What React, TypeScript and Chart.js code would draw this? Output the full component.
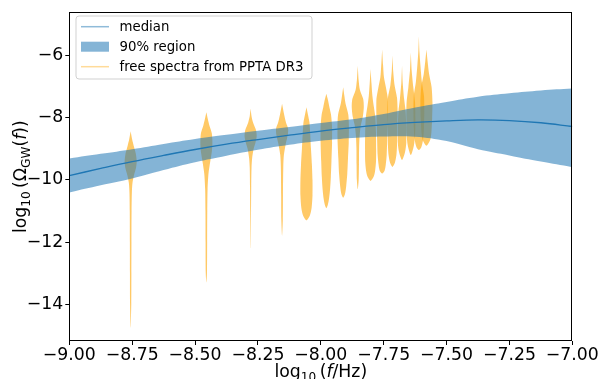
import React, { useEffect, useRef } from "react";
import { Chart, registerables } from "chart.js";
Chart.register(...registerables);

// ---- axis ticks ----
const xTicks = [-9, -8.75, -8.5, -8.25, -8, -7.75, -7.5, -7.25, -7];
const yTicks = [-14, -12, -10, -8, -6];
const xRange = [-9, -7];
const yRange = [-15.18, -4.61];

// ---- model curve (log10 f grid) ----
const bandX = [-9, -8.875, -8.75, -8.625, -8.5, -8.375, -8.25, -8.125, -8, -7.875, -7.75, -7.625, -7.5, -7.375, -7.25, -7.125, -7];
const median = [-9.86, -9.63, -9.41, -9.21, -9.02, -8.85, -8.7, -8.56, -8.43, -8.32, -8.22, -8.15, -8.1, -8.07, -8.09, -8.16, -8.28];
const upper90 = [-9.31, -9.16, -9.01, -8.84, -8.68, -8.55, -8.42, -8.3, -8.17, -8.05, -7.88, -7.67, -7.49, -7.32, -7.21, -7.12, -7.06];
const lower90 = [-10.4, -10.17, -9.95, -9.68, -9.43, -9.22, -9.03, -8.87, -8.74, -8.65, -8.6, -8.61, -8.75, -9.01, -9.21, -9.41, -9.59];

// ---- PPTA DR3 free spectra (violins) ----
const violinFreqs = [-8.756, -8.455, -8.279, -8.154, -8.057, -7.978, -7.911, -7.853, -7.802, -7.756, -7.715, -7.677, -7.642, -7.61, -7.58];
const violinLevels = [
  [-8.43, -8.7, -8.9, -9.15, -9.4, -9.6, -9.85, -10.1, -10.4, -11.0, -12.0, -13.0, -14.0, -14.75],
  [-7.82, -8.05, -8.25, -8.5, -8.8, -9.1, -9.4, -9.8, -10.3, -11.0, -12.0, -13.0, -13.3],
  [-7.7, -7.95, -8.15, -8.4, -8.6, -8.8, -9.0, -9.3, -9.6, -10.2, -11.0, -12.2],
  [-7.55, -7.9, -8.15, -8.35, -8.55, -8.85, -9.2, -9.6, -10.5, -11.3, -11.8],
  [-7.66, -7.9, -8.15, -8.5, -9.0, -9.5, -10.0, -10.5, -10.9, -11.15, -11.3],
  [-7.23, -7.45, -7.65, -7.9, -8.3, -8.8, -9.4, -9.9, -10.3, -10.6, -10.8, -10.91],
  [-7.02, -7.3, -7.55, -7.9, -8.3, -8.8, -9.3, -9.8, -10.2, -10.45, -10.57],
  [-6.33, -6.8, -7.1, -7.4, -7.65, -7.95, -8.25, -8.6, -9.0, -9.5, -10.0, -10.3],
  [-6.43, -6.9, -7.3, -7.6, -8.0, -8.5, -9.0, -9.4, -9.7, -9.9, -10.03],
  [-5.8, -6.3, -6.7, -7.05, -7.4, -8.0, -8.6, -9.2, -9.5, -9.7, -9.79],
  [-6.0, -6.5, -6.95, -7.35, -7.8, -8.4, -8.9, -9.2, -9.45, -9.58],
  [-6.33, -6.9, -7.4, -7.8, -8.3, -8.8, -9.1, -9.36],
  [-5.9, -6.5, -7.0, -7.5, -8.0, -8.5, -8.9, -9.2],
  [-5.37, -5.9, -6.3, -6.85, -7.3, -7.8, -8.3, -8.7, -8.95, -9.04],
  [-5.8, -6.2, -6.6, -7.0, -7.5, -8.0, -8.4, -8.7, -8.9],
];
const violinDensity = [
  [0, 0.25, 0.5, 0.85, 1.0, 0.9, 0.55, 0.3, 0.2, 0.15, 0.13, 0.12, 0.1, 0],
  [0, 0.25, 0.5, 0.9, 1.0, 0.9, 0.65, 0.35, 0.2, 0.15, 0.13, 0.1, 0],
  [0, 0.15, 0.4, 0.9, 1.0, 0.8, 0.5, 0.25, 0.15, 0.1, 0.07, 0],
  [0, 0.35, 0.65, 1.0, 0.95, 0.6, 0.3, 0.2, 0.15, 0.12, 0],
  [0, 0.25, 0.5, 0.62, 0.75, 0.9, 1.0, 1.0, 0.85, 0.55, 0],
  [0, 0.3, 0.5, 0.78, 0.95, 0.95, 0.85, 0.75, 0.62, 0.45, 0.25, 0],
  [0, 0.2, 0.4, 0.85, 0.95, 0.92, 0.8, 0.68, 0.5, 0.3, 0],
  [0, 0.15, 0.35, 0.9, 1.0, 0.85, 0.5, 0.3, 0.22, 0.2, 0.15, 0],
  [0, 0.15, 0.3, 0.5, 0.8, 0.9, 0.92, 0.9, 0.75, 0.5, 0],
  [0, 0.15, 0.3, 0.65, 0.95, 0.95, 0.85, 0.75, 0.6, 0.4, 0],
  [0, 0.12, 0.35, 0.75, 0.85, 0.8, 0.75, 0.65, 0.4, 0],
  [0, 0.12, 0.35, 0.6, 0.7, 0.7, 0.5, 0],
  [0, 0.15, 0.4, 0.7, 0.75, 0.72, 0.5, 0],
  [0, 0.1, 0.25, 0.5, 0.85, 0.9, 0.85, 0.7, 0.4, 0],
  [0, 0.2, 0.45, 0.85, 1.0, 0.95, 0.85, 0.65, 0],
];
const violinHalfWidth = 0.024; // in log10 f units

const legendLabels = ["median", "90% region", "free spectra from PPTA DR3"];

const C0 = "#1f77b4";
const BAND = "rgba(31,119,180,0.55)";
const ORANGE = "rgba(255,165,0,0.6)";
const FONT = '"DejaVu Sans", "Liberation Sans", sans-serif';
const FS_LEG = 13.3;
const FS_AX = 17.3;

function fmtMinus(v: number, d: number) {
  const s = Math.abs(v).toFixed(d);
  return (v < 0 ? "\u2212" : "") + s;
}

type Piece = { t: string; k: "n" | "i" | "s" };
function drawMath(ctx: CanvasRenderingContext2D, parts: Piece[], cx: number, baseline: number, fs: number) {
  const fontFor = (k: string) =>
    k === "i" ? `italic ${fs}px ${FONT}` : k === "s" ? `${fs * 0.7}px ${FONT}` : `${fs}px ${FONT}`;
  let total = 0;
  const widths = parts.map((p) => {
    ctx.font = fontFor(p.k);
    const w = ctx.measureText(p.t).width;
    total += w;
    return w;
  });
  let x = cx - total / 2;
  ctx.textAlign = "left";
  ctx.textBaseline = "alphabetic";
  ctx.fillStyle = "#000";
  parts.forEach((p, i) => {
    ctx.font = fontFor(p.k);
    ctx.fillText(p.t, x, baseline + (p.k === "s" ? fs * 0.24 : 0));
    x += widths[i];
  });
}

const decorPlugin = {
  id: "decor",
  afterDatasetsDraw(chart: any) {
    const { ctx, chartArea: a } = chart;
    ctx.save();
    ctx.strokeStyle = "#000";
    ctx.lineWidth = 1;
    const l = Math.round(a.left) + 0.5, r = Math.round(a.right) - 0.5;
    const t = Math.round(a.top) + 0.5, b = Math.round(a.bottom) - 0.5;
    ctx.strokeRect(l, t, r - l, b - t);
    ctx.restore();
  },
  afterDraw(chart: any) {
    const { ctx, chartArea: a } = chart;
    ctx.save();
    // legend
    const bx = 76, by = 16, bw = 236, bh = 63, rr = 3;
    ctx.beginPath();
    ctx.moveTo(bx + rr, by);
    ctx.arcTo(bx + bw, by, bx + bw, by + bh, rr);
    ctx.arcTo(bx + bw, by + bh, bx, by + bh, rr);
    ctx.arcTo(bx, by + bh, bx, by, rr);
    ctx.arcTo(bx, by, bx + bw, by, rr);
    ctx.closePath();
    ctx.fillStyle = "rgba(255,255,255,0.8)";
    ctx.fill();
    ctx.strokeStyle = "rgba(204,204,204,0.9)";
    ctx.lineWidth = 1;
    ctx.stroke();
    const rows = [26.7, 46.7, 66.7];
    ctx.lineWidth = 1.5;
    ctx.strokeStyle = "rgba(31,119,180,0.5)";
    ctx.beginPath(); ctx.moveTo(81, rows[0]); ctx.lineTo(109, rows[0]); ctx.stroke();
    ctx.fillStyle = BAND;
    ctx.fillRect(81, rows[1] - 5, 28, 10);
    ctx.strokeStyle = "rgba(255,165,0,0.4)";
    ctx.beginPath(); ctx.moveTo(81, rows[2]); ctx.lineTo(109, rows[2]); ctx.stroke();
    ctx.fillStyle = "#000";
    ctx.font = `${FS_LEG}px ${FONT}`;
    ctx.textAlign = "left";
    ctx.textBaseline = "middle";
    legendLabels.forEach((s, i) => ctx.fillText(s, 119.5, rows[i] + 0.5));
    // axis titles
    const cx = (a.left + a.right) / 2;
    drawMath(ctx, [
      { t: "log", k: "n" }, { t: "10", k: "s" }, { t: "\u2009(", k: "n" }, { t: "f", k: "i" }, { t: "/Hz)", k: "n" },
    ], cx, 377, FS_AX);
    ctx.translate(26, (a.top + a.bottom) / 2);
    ctx.rotate(-Math.PI / 2);
    drawMath(ctx, [
      { t: "log", k: "n" }, { t: "10", k: "s" }, { t: "\u2009(\u03A9", k: "n" }, { t: "GW", k: "s" },
      { t: "(", k: "n" }, { t: "f", k: "i" }, { t: "))", k: "n" },
    ], 0, 0, FS_AX);
    ctx.restore();
  },
};

export default function App() {
  const ref = useRef<HTMLCanvasElement>(null);
  useEffect(() => {
    if (!ref.current) return;
    const violinSets = violinFreqs.map((c, i) => {
      const ys = violinLevels[i];
      const ws = violinDensity[i];
      const pts: { x: number; y: number }[] = [];
      for (let j = 0; j < ys.length; j++) pts.push({ x: c + ws[j] * violinHalfWidth, y: ys[j] });
      for (let j = ys.length - 2; j >= 1; j--) pts.push({ x: c - ws[j] * violinHalfWidth, y: ys[j] });
      return {
        type: "line" as const,
        data: pts,
        fill: "shape",
        backgroundColor: ORANGE,
        borderColor: "transparent",
        borderWidth: 0,
        pointRadius: 0,
        tension: 0.25,
        order: 3,
      };
    });
    const chart = new Chart(ref.current, {
      type: "line",
      data: {
        datasets: [
          {
            data: bandX.map((x, i) => ({ x, y: median[i] })),
            borderColor: C0, borderWidth: 1.3, pointRadius: 0, fill: false, tension: 0.4, order: 0,
          },
          {
            data: bandX.map((x, i) => ({ x, y: upper90[i] })),
            borderColor: "transparent", borderWidth: 0, pointRadius: 0, backgroundColor: BAND,
            fill: "+1", tension: 0.4, order: 1,
          },
          {
            data: bandX.map((x, i) => ({ x, y: lower90[i] })),
            borderColor: "transparent", borderWidth: 0, pointRadius: 0, fill: false, tension: 0.4, order: 1,
          },
          ...violinSets,
        ] as any,
      },
      options: {
        animation: false,
        responsive: false,
        maintainAspectRatio: false,
        devicePixelRatio: 1,
        events: [],
        layout: { padding: { left: 0, top: 9, right: 604 - 572.3, bottom: 0 } },
        plugins: { legend: { display: false }, tooltip: { enabled: false } },
        scales: {
          x: {
            type: "linear",
            min: xRange[0],
            max: xRange[1],
            afterBuildTicks: (ax: any) => { ax.ticks = xTicks.map((v) => ({ value: v })); },
            afterFit: (ax: any) => { ax.height = 379 - 341; },
            ticks: {
              callback: (v: any) => fmtMinus(Number(v), 2),
              color: "#000",
              font: { family: FONT, size: FS_AX },
              padding: 0,
              maxRotation: 0,
              autoSkip: false,
            },
            grid: { drawOnChartArea: false, drawTicks: true, tickLength: 4, tickColor: "#000", tickWidth: 1 },
            border: { display: false },
          },
          y: {
            type: "linear",
            min: yRange[0],
            max: yRange[1],
            afterBuildTicks: (ax: any) => { ax.ticks = yTicks.map((v) => ({ value: v })); },
            afterFit: (ax: any) => { ax.width = 69.3; },
            ticks: {
              callback: (v: any) => fmtMinus(Number(v), 0),
              color: "#000",
              font: { family: FONT, size: FS_AX },
              padding: 2,
              autoSkip: false,
            },
            grid: { drawOnChartArea: false, drawTicks: true, tickLength: 4, tickColor: "#000", tickWidth: 1 },
            border: { display: false },
          },
        },
      } as any,
      plugins: [decorPlugin],
    });
    return () => chart.destroy();
  }, []);
  return (
    <div style={{ position: "absolute", left: 0, top: 0, width: 604, height: 379, background: "#fff" }}>
      <canvas ref={ref} width={604} height={379} style={{ width: 604, height: 379, display: "block" }} />
    </div>
  );
}
